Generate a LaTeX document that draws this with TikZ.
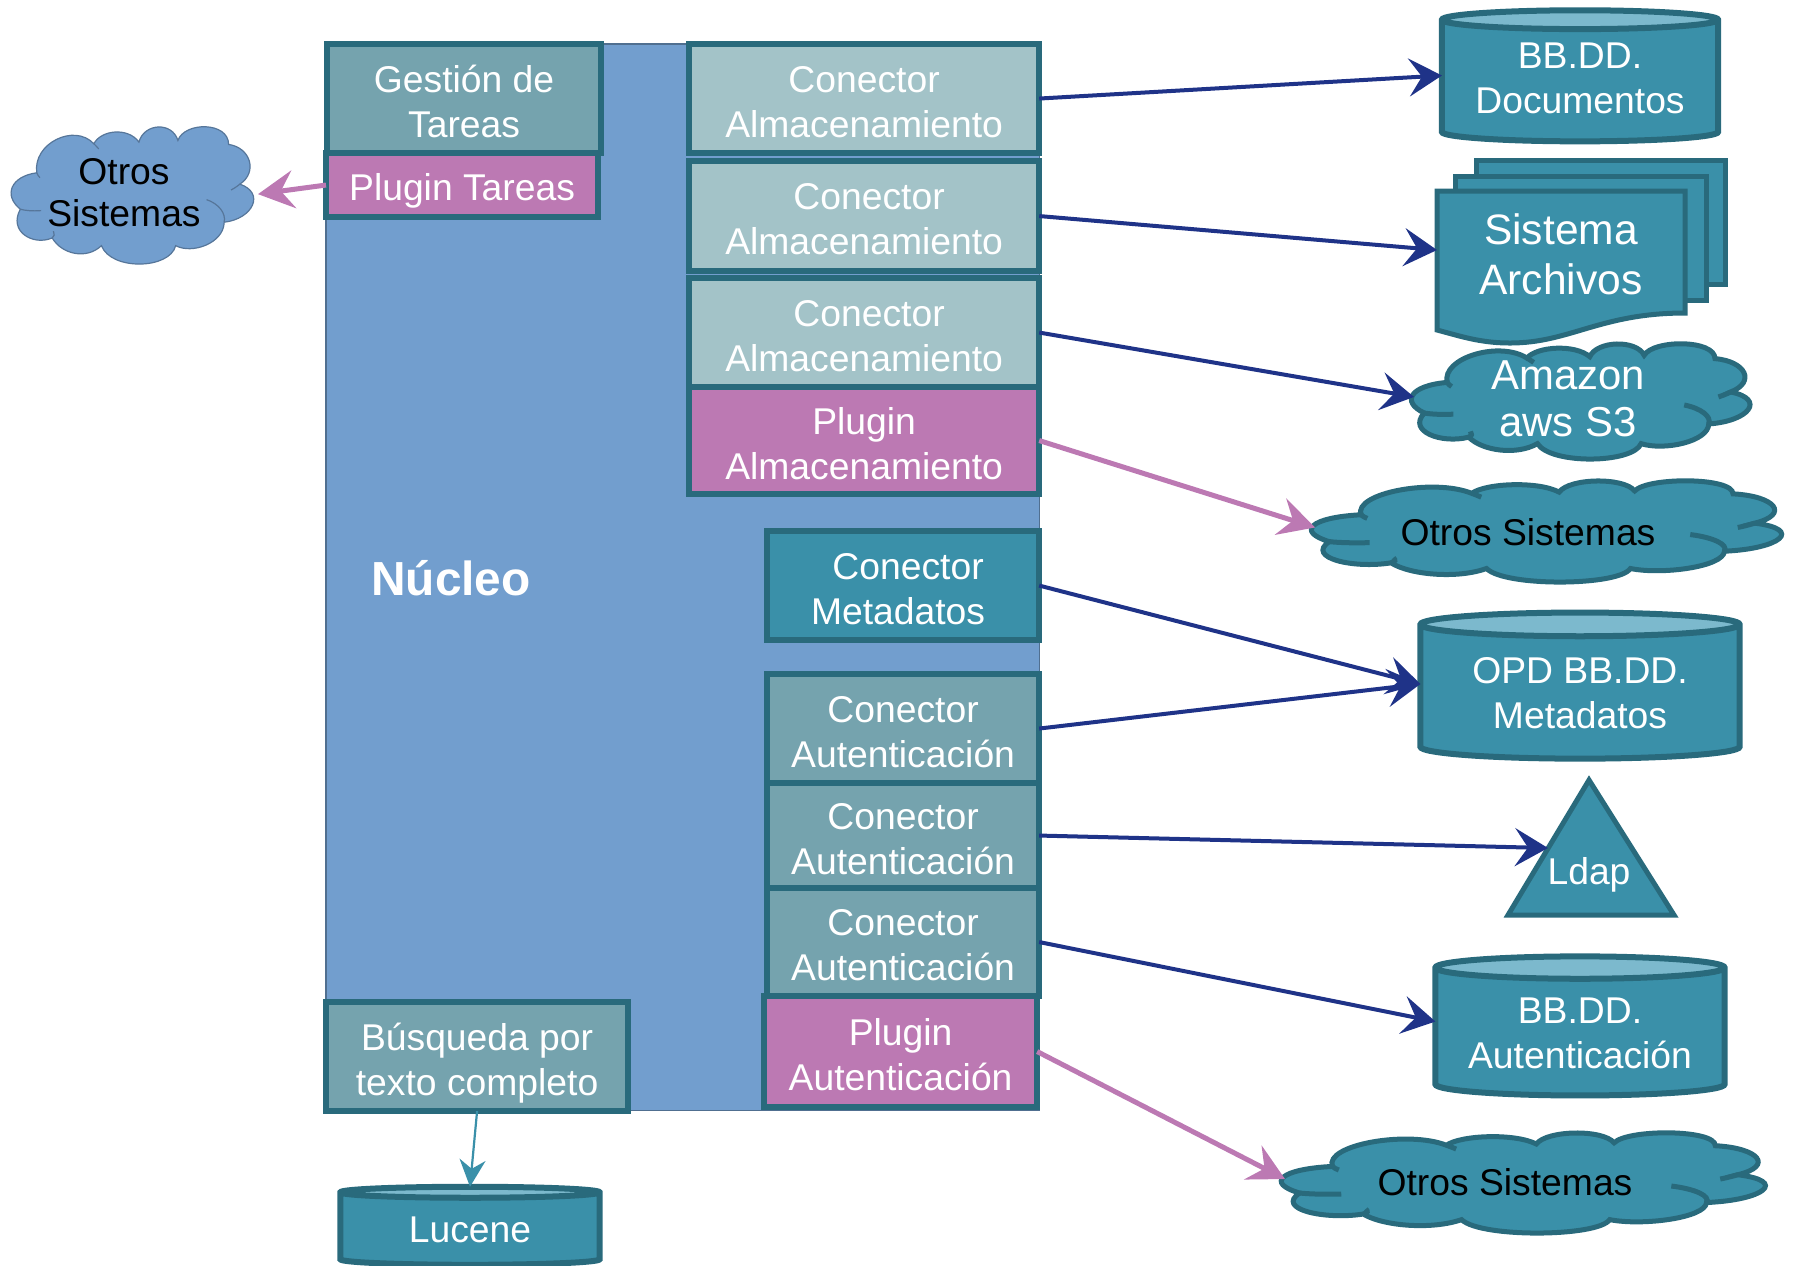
\documentclass[tikz,border=0pt]{standalone}
\usepackage{fontspec}
\setmainfont{Liberation Sans}
\usetikzlibrary{arrows.meta}
\usetikzlibrary{shapes.geometric}
\definecolor{fondo}{HTML}{729ECE}
\definecolor{borde}{HTML}{296A7C}
\definecolor{medio}{HTML}{75A3AE}
\definecolor{claro}{HTML}{A3C3C8}
\definecolor{base}{HTML}{3A90A9}
\definecolor{tapa}{HTML}{7CB9CD}
\definecolor{plug}{HTML}{BC79B3}
\definecolor{flecha}{HTML}{1F3388}
\tikzset{
  caja/.style={draw=borde,line width=.06cm,outer sep=0pt,inner sep=0pt,text=white,align=center,
    anchor=north west,font=\fontsize{10.6}{12.8}\selectfont,text height=22pt},
  almacen/.style={caja,fill=claro,minimum width=3.50cm,minimum height=1.09cm},
  autent/.style={caja,fill=medio,minimum width=2.72cm},
  plugin/.style={caja,fill=plug},
  cilindro/.style={cylinder,shape border rotate=90,draw=borde,line width=.06cm,outer sep=0pt,inner sep=0pt,
    cylinder uses custom fill,cylinder body fill=base,cylinder end fill=tapa,text=white,align=center,
    font=\fontsize{10.6}{12.8}\selectfont},
  nube azul/.style={draw=fondo!75!black,fill=fondo,line width=.012cm},
  nube teal/.style={draw=borde,fill=base,line width=.05cm},
  texto/.style={align=center,inner sep=0pt},
  nav/.style={draw=flecha,line width=.04cm,-{Stealth[length=.01cm,width=.002cm,inset=0pt,sep=-.02cm] Stealth[length=.33cm,width=.38cm,inset=.13cm]}},
  mor/.style={draw=plug,line width=.05cm,-{Stealth[length=.01cm,width=.002cm,inset=0pt,sep=-.02cm] Stealth[length=.36cm,width=.38cm,inset=.13cm]}},
}
\newcommand{\nube}[6]{%
\begin{scope}[shift={(#2,#3)},x=#4*0.01cm,y=-#5*0.01cm]
\path[#6] (0.03,0.60) .. controls (-0.04,0.50) and (-0.01,0.36) .. (0.097,0.334)
  .. controls (0.08,0.12) and (0.25,-0.03) .. (0.33,0.122)
  .. controls (0.36,0.02) and (0.47,0) .. (0.514,0.11)
  .. controls (0.535,-0.03) and (0.65,-0.04) .. (0.673,0.098)
  .. controls (0.70,-0.04) and (0.88,-0.04) .. (0.88,0.127)
  .. controls (0.97,0.15) and (1,0.33) .. (0.926,0.417)
  .. controls (1.03,0.48) and (0.98,0.67) .. (0.862,0.695)
  .. controls (0.86,0.85) and (0.73,0.93) .. (0.664,0.866)
  .. controls (0.64,1.04) and (0.40,1.05) .. (0.361,0.866)
  .. controls (0.30,0.97) and (0.20,0.93) .. (0.16,0.81)
  .. controls (0.08,0.87) and (-0.02,0.76) .. (0.03,0.60) -- cycle;
\path[#6,fill=none] (0.03,0.60) .. controls (0.05,0.61) and (0.08,0.615) .. (0.115,0.61);
\path[#6,fill=none] (0.097,0.334) .. controls (0.10,0.35) and (0.105,0.36) .. (0.11,0.37);
\path[#6,fill=none] (0.33,0.122) .. controls (0.335,0.13) and (0.34,0.14) .. (0.35,0.16);
\path[#6,fill=none] (0.926,0.417) .. controls (0.91,0.44) and (0.90,0.45) .. (0.89,0.46);
\path[#6,fill=none] (0.79,0.53) .. controls (0.84,0.56) and (0.87,0.63) .. (0.862,0.695);
\path[#6,fill=none] (0.16,0.81) .. controls (0.17,0.80) and (0.17,0.78) .. (0.165,0.76);
\coordinate (#1 w) at (0,0.46);
\coordinate (#1 e) at (1,0.49);
\end{scope}}

\begin{document}
\begin{tikzpicture}[x=0.01cm,y=-0.01cm]
\useasboundingbox (0,0) rectangle (1794,1265);
\node[draw=fondo!70!black,fill=fondo,line width=.012cm,outer sep=0pt,anchor=north west,minimum width=7.13cm,minimum height=10.66cm] (nucleo) at (326,44) {};
\node[texto,text=white,font=\fontsize{13.6}{16}\bfseries\selectfont] (titulo) at (451,578) {Núcleo};
% izquierda
\node[caja,fill=medio,minimum width=2.74cm,minimum height=1.09cm] (tareas) at (327,44) {Gestión de\\Tareas};
\node[plugin,text height=9pt,text depth=0pt,minimum width=2.72cm,minimum height=.64cm] (ptareas) at (326,153) {Plugin Tareas};
\node[caja,fill=medio,text depth=0pt,minimum width=3.02cm,minimum height=1.09cm] (busqueda) at (326,1002) {Búsqueda por\\texto completo};
% conectores
\node[almacen] (alm1) at (689,44) {Conector\\Almacenamiento};
\node[almacen,minimum height=1.10cm] (alm2) at (689,161) {\hspace*{.1cm}Conector\\Almacenamiento};
\node[almacen] (alm3) at (689,278) {\hspace*{.1cm}Conector\\Almacenamiento};
\node[almacen,plugin,minimum height=1.07cm] (palm) at (689,387) {Plugin\\Almacenamiento};
\node[autent,fill=base,minimum height=1.09cm] (meta) at (767,531) {\hspace*{.1cm}Conector\\Metadatos\hspace*{.1cm}};
\node[autent,minimum height=1.09cm] (aut1) at (767,674) {Conector\\Autenticación};
\node[autent,minimum height=1.05cm] (aut2) at (767,783) {Conector\\Autenticación};
\node[autent,minimum height=1.08cm] (aut3) at (767,888) {Conector\\Autenticación};
\node[plugin,minimum width=2.73cm,minimum height=1.11cm] (paut) at (764,996) {Plugin\\Autenticación};
% almacenes
\node[cilindro,text depth=2pt,aspect=.09,minimum width=2.76cm,minimum height=1.31cm] (docs) at (1580,82) {BB.DD.\\Documentos};
\node[cilindro,aspect=.11,minimum width=3.19cm,minimum height=1.46cm] (opd) at (1580,693) {OPD BB.DD.\\Metadatos};
\node[cilindro,aspect=.10,minimum width=2.89cm,minimum height=1.39cm] (baut) at (1580,1033) {BB.DD.\\Autenticación};
\node[cilindro,aspect=.09,minimum width=2.59cm,minimum height=.78cm] (lucene) at (470,1230) {Lucene};
% sistema de archivos
\draw[borde,line width=.05cm,fill=base] (1476,160) rectangle (1725,284);
\draw[borde,line width=.05cm,fill=base] (1455,176) rectangle (1706,300);
\draw[borde,line width=.05cm,fill=base] (1437,191) -- (1685,191) -- (1685,313) .. controls (1600,313) and (1570,343) .. (1510,343) .. controls (1480,343) and (1460,336) .. (1437,330) -- cycle;
\coordinate (arch w) at (1437,250);
\node[texto,text=white,font=\fontsize{12.1}{14.3}\selectfont] (arch) at (1561,254) {Sistema\\Archivos};
% nubes
\nube{otros1}{13}{127}{245}{137}{nube azul}
\node[texto,font=\fontsize{10.6}{12}\selectfont] (totros1) at (124,193) {Otros\\Sistemas};
\nube{aws}{1414}{344}{342}{115}{nube teal}
\node[texto,text=white,font=\fontsize{11.9}{13.4}\selectfont] (taws) at (1568,399) {Amazon\\aws S3};
\nube{otros2}{1315}{481}{475}{101}{nube teal}
\node[texto,font=\fontsize{10.6}{12}\selectfont] (totros2) at (1528,532) {Otros Sistemas};
\nube{otros3}{1285}{1133}{489}{100}{nube teal}
\node[texto,font=\fontsize{10.6}{12}\selectfont] (totros3) at (1505,1182) {Otros Sistemas};
% ldap
\draw[borde,line width=.05cm,fill=base] (1589,780) -- (1674,915) -- (1508,915) -- cycle;
\coordinate (ldap w) at (1548,848);
\node[texto,text=white,font=\fontsize{10.6}{12.8}\selectfont] (ldap) at (1589,875) {Ldap};
% flechas
\draw[nav] (alm1.east) -- ([yshift=.065cm]docs.west);
\draw[nav] (alm2.east) -- (arch w);
\draw[nav] (alm3.east) -- (aws w);
\draw[mor] (palm.east) -- (otros2 w);
\draw[nav] (meta.east) -- ([yshift=.09cm]opd.west);
\draw[nav] (aut1.east) -- ([yshift=.09cm]opd.west);
\draw[nav] (aut2.east) -- (ldap w);
\draw[nav] (aut3.east) -- ([yshift=.115cm]baut.west);
\draw[mor] (paut.east) -- (otros3 w);
\draw[mor] (ptareas.west) -- (otros1 e);
\draw[draw=base,line width=.022cm,-{Stealth[length=.27cm,width=.26cm,inset=.09cm]}] (busqueda.south) -- (lucene.north);
\end{tikzpicture}
\end{document}
